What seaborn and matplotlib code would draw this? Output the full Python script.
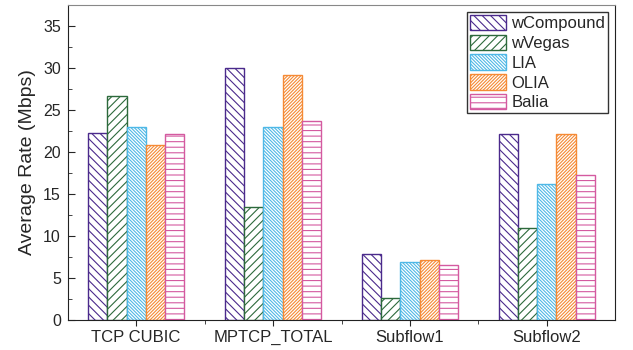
import pandas as pd
import seaborn as sns
import matplotlib.pyplot as plt
from matplotlib.patches import Patch
from matplotlib.ticker import MultipleLocator

categorias = ["TCP CUBIC", "MPTCP_TOTAL", "Subflow1", "Subflow2"]
algoritmos = ["wCompound", "wVegas", "LIA", "OLIA", "Balia"]
wcompound = [22.2, 30.0, 7.9, 22.1]
wvegas = [26.7, 13.4, 2.6, 10.9]
lia = [23.0, 23.0, 6.9, 16.2]
olia = [20.8, 29.1, 7.1, 22.1]
balia = [22.1, 23.7, 6.5, 17.3]

cores = ["#4b2a8c", "#2d6a3c", "#4fb8e6", "#f58a35", "#d45aa0"]
hachuras = ["\\" * 4, "/" * 4, "\\" * 10, "/" * 10, "---"]

valores = [wcompound, wvegas, lia, olia, balia]
df = pd.DataFrame(
    [(c, a, v) for a, serie in zip(algoritmos, valores) for c, v in zip(categorias, serie)],
    columns=["categoria", "algoritmo", "taxa"],
)

sns.set_style("ticks")
plt.rcParams["font.family"] = ["Liberation Sans", "DejaVu Sans"]
plt.rcParams["hatch.linewidth"] = 0.8

fig = plt.figure(figsize=(6.33, 3.5), dpi=100)
ax = fig.add_axes([0.107, 0.086, 0.865, 0.9])

sns.barplot(data=df, x="categoria", y="taxa", hue="algoritmo", order=categorias,
            hue_order=algoritmos, width=0.7, gap=0, ax=ax, legend=False, errorbar=None)

for cont, cor, h in zip(ax.containers, cores, hachuras):
    for barra in cont:
        barra.set_facecolor("white")
        barra.set_edgecolor(cor)
        barra.set_hatch(h)
        barra.set_linewidth(1.0)

ax.set_xlim(-0.5, 3.5)
ax.set_ylim(0, 37.5)
ax.yaxis.set_major_locator(MultipleLocator(5))
ax.yaxis.set_minor_locator(MultipleLocator(2.5))
ax.tick_params(axis="y", which="both", direction="in", labelsize=11.5, pad=5)
ax.tick_params(axis="y", which="major", length=5)
ax.tick_params(axis="y", which="minor", length=3)
ax.tick_params(axis="x", which="major", direction="out", length=4, labelsize=12)
ax.set_xticks([0.5, 1.5, 2.5], minor=True)
ax.tick_params(axis="x", which="minor", direction="out", length=3)
ax.set_xlabel("")
ax.set_ylabel("Average Rate (Mbps)", fontsize=14, labelpad=5)
for lado in ["top", "right", "left", "bottom"]:
    ax.spines[lado].set_visible(True)
    ax.spines[lado].set_color("#222222")
ax.spines["top"].set_color("#888888")

handles = [Patch(facecolor="white", edgecolor=c, hatch=h, label=a)
           for a, c, h in zip(algoritmos, cores, hachuras)]
leg = ax.legend(handles=handles, loc="upper right", fontsize=12, frameon=True,
                fancybox=False, edgecolor="black", handlelength=2.2, handleheight=1.05,
                handletextpad=0.3, labelspacing=0.2, borderpad=0.15,
                borderaxespad=0.45)
leg.get_frame().set_linewidth(1.0)

fig.savefig("out.png", dpi=100)
